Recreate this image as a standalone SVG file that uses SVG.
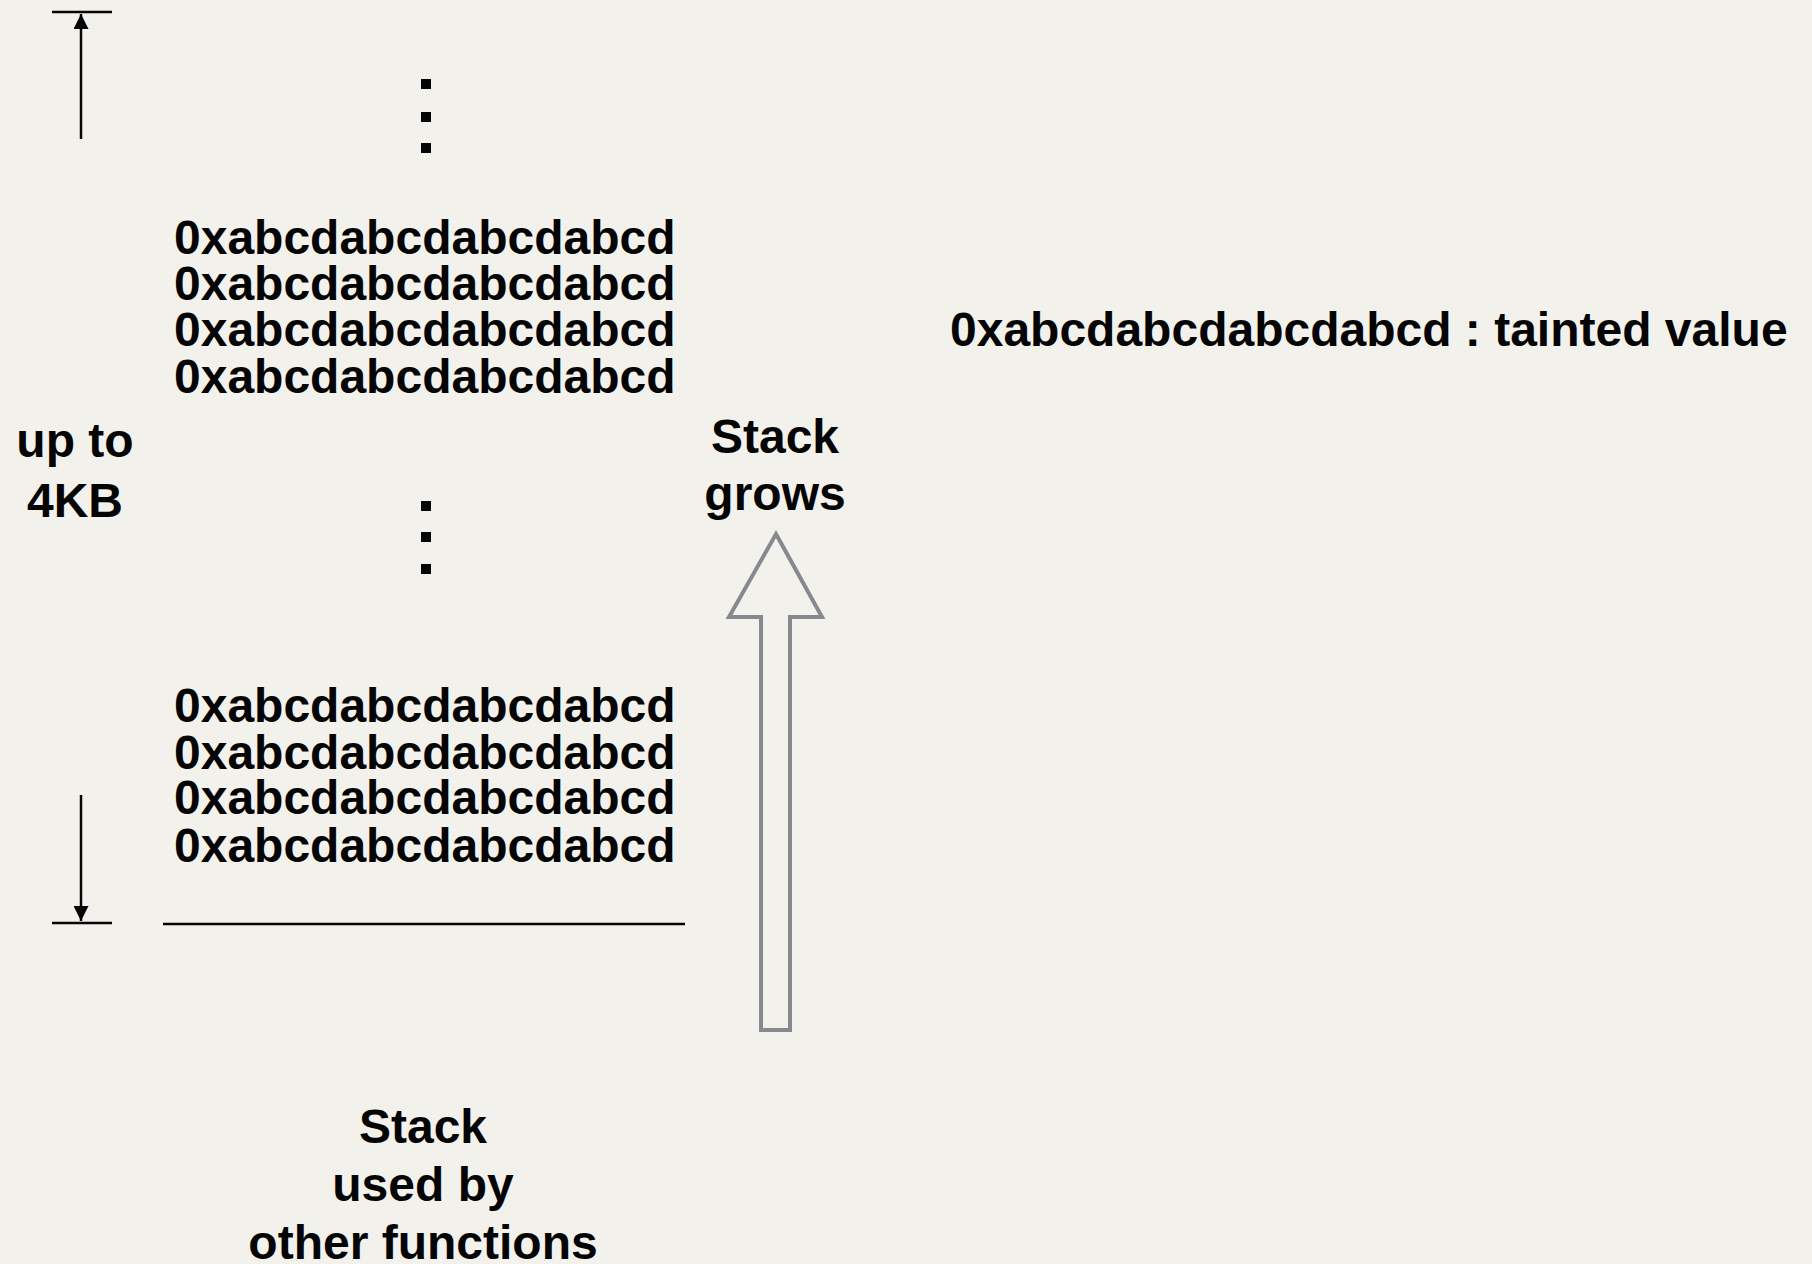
<svg xmlns="http://www.w3.org/2000/svg" width="1812" height="1264" viewBox="0 0 1812 1264">
<defs>
<style>
.t{font-family:"Liberation Sans",Arial,Helvetica,sans-serif;font-weight:bold;font-size:48px;fill:#050505}
.m{text-anchor:middle}
.ln{stroke:#050505;stroke-width:2.5;fill:none}
.dot{fill:#050505}
</style>
<marker id="ah" viewBox="0 0 10 10" refX="10" refY="5" markerWidth="15" markerHeight="15" markerUnits="userSpaceOnUse" orient="auto">
<path d="M0,0 L10,5 L0,10 z" fill="#050505"/>
</marker>
</defs>
<rect width="1812" height="1264" fill="#f3f1ec"/>

<g id="connectors">
<line class="ln" x1="52" y1="12" x2="112" y2="12"/>
<line class="ln" x1="81" y1="139" x2="81" y2="14" marker-end="url(#ah)"/>
<line class="ln" x1="52" y1="923" x2="112" y2="923"/>
<line class="ln" x1="81" y1="795" x2="81" y2="921" marker-end="url(#ah)"/>
<line class="ln" x1="163" y1="924" x2="685" y2="924"/>
</g>

<g id="dots-top">
<rect class="dot" x="421" y="79" width="10" height="10"/>
<rect class="dot" x="421" y="112" width="10" height="10"/>
<rect class="dot" x="421" y="143" width="10" height="10"/>
</g>

<g id="block-top">
<text class="t" x="174" y="254">0xabcdabcdabcdabcd</text>
<text class="t" x="174" y="300">0xabcdabcdabcdabcd</text>
<text class="t" x="174" y="346">0xabcdabcdabcdabcd</text>
<text class="t" x="174" y="393">0xabcdabcdabcdabcd</text>
</g>

<g id="legend">
<text class="t" x="950" y="346">0xabcdabcdabcdabcd : tainted value</text>
</g>

<g id="size-label">
<text class="t m" x="75" y="457">up to</text>
<text class="t m" x="75" y="517">4KB</text>
</g>

<g id="dots-mid">
<rect class="dot" x="421" y="501" width="10" height="10"/>
<rect class="dot" x="421" y="532" width="10" height="10"/>
<rect class="dot" x="421" y="564" width="10" height="10"/>
</g>

<g id="grows-label">
<text class="t m" x="775" y="453">Stack</text>
<text class="t m" x="775" y="510">grows</text>
</g>

<g id="grow-arrow">
<path d="M776,534 L822,617 L790,617 L790,1030 L761,1030 L761,617 L729,617 Z" fill="none" stroke="#868a8f" stroke-width="4" stroke-linejoin="miter"/>
</g>

<g id="block-bottom">
<text class="t" x="174" y="722">0xabcdabcdabcdabcd</text>
<text class="t" x="174" y="769">0xabcdabcdabcdabcd</text>
<text class="t" x="174" y="814">0xabcdabcdabcdabcd</text>
<text class="t" x="174" y="862">0xabcdabcdabcdabcd</text>
</g>

<g id="other-label">
<text class="t m" x="423" y="1143">Stack</text>
<text class="t m" x="423" y="1201">used by</text>
<text class="t m" x="423" y="1259">other functions</text>
</g>
</svg>
